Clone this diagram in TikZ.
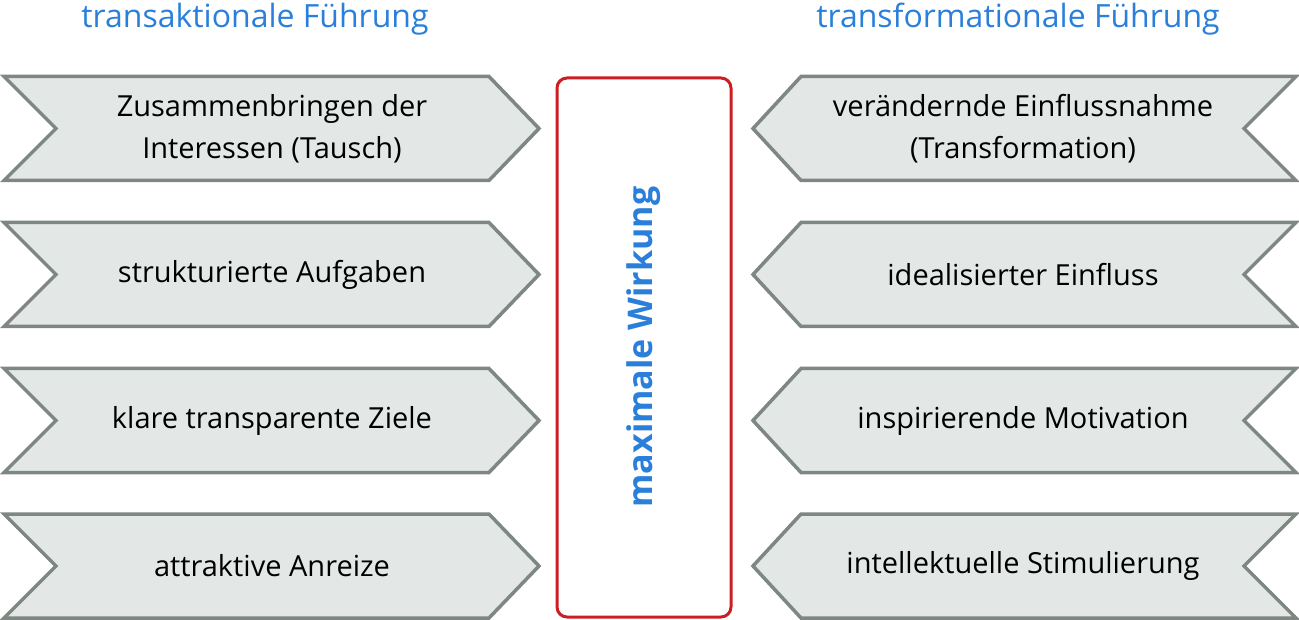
\documentclass[tikz,border=0pt]{standalone}
\usepackage{fontspec}
\setmainfont{Open Sans}
\definecolor{cfill}{HTML}{E3E8E6}
\definecolor{cline}{HTML}{7F8783}
\definecolor{cblue}{HTML}{2A7FDB}
\definecolor{cred}{HTML}{CC1F24}
\begin{document}
\begin{tikzpicture}[x=1pt,y=-1pt,
  chev/.style={fill=cfill,draw=cline,line width=3.5pt,line join=miter},
  lbl/.style={font=\fontsize{29}{42}\selectfont,align=center,text=black},
  ttl/.style={font=\fontsize{32}{38}\selectfont,text=cblue}]
\useasboundingbox (0,0) rectangle (1299,620);
\node[ttl] (tl) at (255,19) {transaktionale Führung};
\node[ttl] (tr) at (1018,19) {transformationale Führung};
\foreach \i/\yc in {1/128.5,2/274.5,3/420.5,4/566} {
  \draw[chev] (4,\yc-52) -- (489,\yc-52) -- (539,\yc) -- (489,\yc+52) -- (4,\yc+52) -- (56,\yc) -- cycle;
  \draw[chev] (1296,\yc-52) -- (801,\yc-52) -- (753,\yc) -- (801,\yc+52) -- (1296,\yc+52) -- (1244,\yc) -- cycle;
}
\node[lbl] (l1) at (272,128.5) {Zusammenbringen der\\Interessen (Tausch)};
\node[lbl] (l2) at (272,274.5) {strukturierte Aufgaben};
\node[lbl] (l3) at (272,420.5) {klare transparente Ziele};
\node[lbl] (l4) at (272,566) {attraktive Anreize};
\node[lbl] (r1) at (1023,128.5) {verändernde Einflussnahme\\(Transformation)};
\node[lbl] (r2) at (1023,274.5) {idealisierter Einfluss};
\node[lbl] (r3) at (1023,420.5) {inspirierende Motivation};
\node[lbl] (r4) at (1023,566) {intellektuelle Stimulierung};
\draw[cred,line width=3pt,rounded corners=10pt,fill=white] (557,78) rectangle (731,617);
\node[rotate=90,text=cblue,font=\fontsize{34}{40}\selectfont\bfseries] (mw) at (644,347) {maximale Wirkung};
\end{tikzpicture}
\end{document}
